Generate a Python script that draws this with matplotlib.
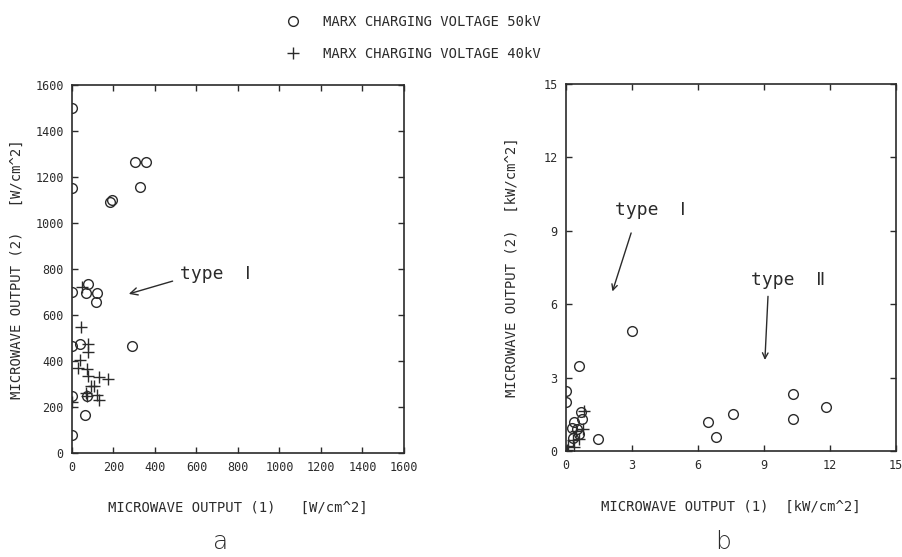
import numpy as np
import matplotlib
matplotlib.use("Agg")
import matplotlib.pyplot as plt

plt.rcParams['font.family'] = ['DejaVu Sans Mono', 'DejaVu Sans']

# panel a: W/cm^2
a_50kv_x = [0, 0, 185, 195, 306, 358, 326, 0, 76, 66, 120, 117, 0, 40, 290, 72, 0, 62, 0]
a_50kv_y = [1500, 1150, 1090, 1100, 1265, 1265, 1155, 698, 734, 695, 695, 654, 465, 472, 465, 245, 245, 163, 78]
a_40kv_x = [42, 50, 78, 76, 38, 30, 72, 78, 132, 175, 105, 90, 66, 72, 122, 132, 0]
a_40kv_y = [545, 722, 474, 440, 405, 370, 365, 333, 328, 322, 292, 290, 258, 245, 250, 230, 222]

# panel b: kW/cm^2
b_50kv_x = [3.0, 0.6, 0, 0, 1.45, 6.46, 6.8, 7.59, 10.3, 10.3, 11.8,
            0.66, 0.72, 0.35, 0.25, 0.5, 0.6, 0.3]
b_50kv_y = [4.9, 3.47, 2.47, 2.0, 0.5, 1.2, 0.59, 1.51, 2.32, 1.31, 1.79,
            1.6, 1.3, 1.2, 0.95, 0.89, 0.68, 0.55]
b_40kv_x = [0.84, 0.3, 0.1, 0.35, 0.6, 0.45, 0.75, 0.05]
b_40kv_y = [1.64, 0.45, 0.2, 0.15, 0.5, 0.8, 0.9, 0.05]

ink = '#2b2b2b'
label_50 = 'MARX CHARGING VOLTAGE 50kV'
label_40 = 'MARX CHARGING VOLTAGE 40kV'

fig = plt.figure(figsize=(9.02, 5.57), dpi=100)
ax_a = fig.add_axes([0.0798, 0.1873, 0.368, 0.660])
ax_b = fig.add_axes([0.6275, 0.1903, 0.3659, 0.659])


def style_axes(ax, lim, step):
    ax.set_xlim(0, lim)
    ax.set_ylim(0, lim)
    ticks = np.arange(0, lim + step / 2, step)
    ax.set_xticks(ticks)
    ax.set_yticks(ticks)
    ax.tick_params(direction='in', length=4, width=1, top=True, right=True,
                   labelsize=8.5, colors=ink, pad=6)
    for sp in ax.spines.values():
        sp.set_linewidth(1.2)
        sp.set_color(ink)


def draw_points(ax, x50, y50, x40, y40):
    h50, = ax.plot(x50, y50, 'o', ms=7, mfc='none', mec=ink, mew=1.0, linestyle='none')
    h40, = ax.plot(x40, y40, '+', ms=8, mec=ink, mew=1.0, linestyle='none')
    return h50, h40


style_axes(ax_a, 1600, 200)
h50, h40 = draw_points(ax_a, a_50kv_x, a_50kv_y, a_40kv_x, a_40kv_y)
ax_a.set_xlabel('MICROWAVE OUTPUT (1)   [W/cm^2]', fontsize=10, color=ink, labelpad=19.5)
ax_a.set_ylabel('MICROWAVE OUTPUT (2)   [W/cm^2]', fontsize=10, color=ink, labelpad=8)
ax_a.annotate('type  Ⅰ', xy=(274, 691), xytext=(519, 778), fontsize=13, color=ink,
              va='center', ha='left',
              arrowprops=dict(arrowstyle='->', color=ink, lw=1,
                              shrinkA=0, shrinkB=0, relpos=(-0.1, 0.1)))

style_axes(ax_b, 15, 3)
draw_points(ax_b, b_50kv_x, b_50kv_y, b_40kv_x, b_40kv_y)
ax_b.set_xlabel('MICROWAVE OUTPUT (1)  [kW/cm^2]', fontsize=10, color=ink, labelpad=20)
ax_b.set_ylabel('MICROWAVE OUTPUT (2)  [kW/cm^2]', fontsize=10, color=ink, labelpad=18)
ax_b.text(2.23, 9.86, 'type  Ⅰ', fontsize=13, color=ink, va='center')
ax_b.annotate('', xy=(2.11, 6.52), xytext=(2.96, 8.91),
              arrowprops=dict(arrowstyle='->', color=ink, lw=1, shrinkA=0, shrinkB=0))
ax_b.text(8.39, 7.0, 'type  Ⅱ', fontsize=13, color=ink, va='center')
ax_b.annotate('', xy=(9.04, 3.72), xytext=(9.18, 6.32),
              arrowprops=dict(arrowstyle='->', color=ink, lw=1, shrinkA=0, shrinkB=0))

fig.text(221 / 902, 1 - 554 / 557, 'a', fontsize=18, color=ink, ha='center', va='bottom',
         family='DejaVu Sans', fontweight='light')
fig.text(723 / 902, 1 - 554 / 557, 'b', fontsize=18, color=ink, ha='center', va='bottom',
         family='DejaVu Sans', fontweight='light')

fig.legend([h50, h40], [label_50, label_40], loc='upper left',
           bbox_to_anchor=(272 / 902, 1 - 2 / 557), frameon=False, fontsize=10,
           handlelength=1.2, handletextpad=1.6, labelspacing=1.3, labelcolor=ink)

fig.savefig('out.png', dpi=100)
